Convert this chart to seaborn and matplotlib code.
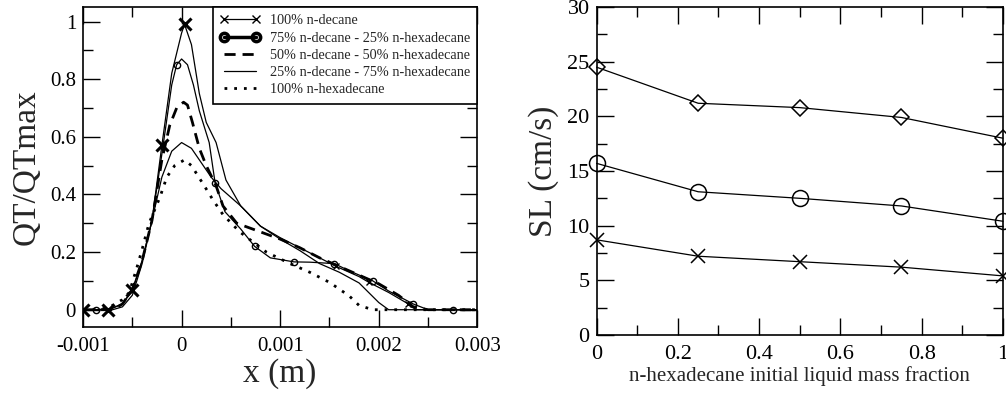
import numpy as np
import pandas as pd
import matplotlib
matplotlib.use("Agg")
import matplotlib.pyplot as plt
from matplotlib.lines import Line2D
from matplotlib.ticker import MultipleLocator, FormatStrFormatter
import seaborn as sns

# Profili QT/QTmax lungo x (m)
x_dec = [-0.001, -0.00075, -0.0006, -0.0005, -0.0004, -0.0003, -0.0002, -0.0001, 0.0, 0.00003,
         0.0001, 0.00018, 0.00025, 0.00035, 0.00045, 0.0006, 0.0008, 0.001, 0.0012, 0.0014,
         0.00157, 0.0018, 0.0019, 0.0021, 0.0023, 0.00238, 0.003]
y_dec = [0, 0, 0.02, 0.07, 0.17, 0.31, 0.57, 0.82, 0.96, 0.99,
         0.92, 0.75, 0.65, 0.58, 0.45, 0.36, 0.29, 0.25, 0.215, 0.18,
         0.15, 0.115, 0.095, 0.06, 0.02, 0, 0]
mk_dec = [0, 1, 3, 6, 9]
mk_dec_small = [20, 22, 24]

x_75 = [-0.001, -0.00087, -0.0007, -0.0006, -0.0005, -0.0004, -0.0003, -0.0002, -0.0001, -0.00005,
        0.0, 0.00006, 0.00012, 0.00018, 0.00028, 0.00034, 0.00044, 0.0006, 0.00074, 0.0009,
        0.00114, 0.0013, 0.00155, 0.0017, 0.00194, 0.0021, 0.00235, 0.0025, 0.00275, 0.003]
y_75 = [0, 0, 0.005, 0.02, 0.065, 0.17, 0.31, 0.54, 0.78, 0.85,
        0.87, 0.85, 0.78, 0.69, 0.58, 0.44, 0.34, 0.28, 0.22, 0.18,
        0.166, 0.165, 0.16, 0.135, 0.10, 0.065, 0.02, 0, 0, 0]
mk_75 = [1, 9, 15, 18, 20, 22, 24, 26, 28]

x_50 = [-0.001, -0.0007, -0.0006, -0.0005, -0.0004, -0.0003, -0.0002, -0.00012, -0.00005, 0.00002,
        0.00006, 0.00011, 0.00018, 0.00025, 0.00035, 0.00042, 0.00056, 0.0008, 0.001, 0.0012,
        0.0014, 0.0016, 0.0018, 0.002, 0.0022, 0.00235, 0.0025, 0.003]
y_50 = [0, 0, 0.02, 0.07, 0.17, 0.31, 0.52, 0.64, 0.70, 0.72,
        0.71, 0.65, 0.56, 0.50, 0.43, 0.36, 0.30, 0.27, 0.245, 0.215,
        0.18, 0.15, 0.12, 0.09, 0.05, 0.01, 0, 0]

x_25 = [-0.001, -0.0007, -0.0006, -0.0005, -0.0004, -0.0003, -0.0002, -0.0001, 0.0, 0.0001,
        0.0002, 0.0003, 0.0004, 0.0005, 0.0006, 0.0008, 0.001, 0.0012, 0.0014, 0.0016,
        0.0018, 0.002, 0.0021, 0.003]
y_25 = [0, 0, 0.01, 0.05, 0.16, 0.31, 0.46, 0.55, 0.58, 0.56,
        0.51, 0.46, 0.42, 0.39, 0.36, 0.29, 0.245, 0.205, 0.16, 0.13,
        0.093, 0.025, 0, 0]

x_hex = [-0.001, -0.0008, -0.0007, -0.0006, -0.00053, -0.00045, -0.0004, -0.00033, -0.00022, -0.00015,
         -0.00007, 0.00003, 0.0001, 0.00023, 0.00032, 0.00042, 0.00059, 0.00086, 0.0011, 0.0013,
         0.0015, 0.0017, 0.0018, 0.00194, 0.003]
y_hex = [0, 0.003, 0.015, 0.035, 0.06, 0.15, 0.21, 0.30, 0.39, 0.46,
         0.50, 0.52, 0.50, 0.43, 0.38, 0.33, 0.27, 0.20, 0.16, 0.13,
         0.095, 0.048, 0.015, 0, 0]

labels = ["100% n-decane", "75% n-decane - 25% n-hexadecane", "50% n-decane - 50% n-hexadecane",
          "25% n-decane - 75% n-hexadecane", "100% n-hexadecane"]

# Velocita' di fiamma SL (cm/s)
frac = [0, 0.25, 0.5, 0.75, 1.0]
sl_diamond = [24.5, 21.2, 20.8, 19.9, 18.0]
sl_circle = [15.7, 13.1, 12.5, 11.8, 10.4]
sl_cross = [8.7, 7.2, 6.7, 6.2, 5.4]

sns.set_style("ticks")
plt.rcParams["font.family"] = ["Liberation Serif", "DejaVu Serif"]

fig = plt.figure(figsize=(10.06, 3.94), dpi=100)
ax1 = fig.add_axes([0.0825, 0.170, 0.392, 0.812])
ax2 = fig.add_axes([0.593, 0.150, 0.404, 0.832])

DOTS = (0, (1, 2.5))
DASH = (0, (4, 2.5))

# --- grafico di sinistra
sns.lineplot(x=x_dec, y=y_dec, ax=ax1, sort=False, estimator=None, color="k", lw=0.9,
             marker="x", markersize=9, markeredgewidth=2.2, markeredgecolor="k",
             markevery=mk_dec)
sns.lineplot(x=x_dec, y=y_dec, ax=ax1, sort=False, estimator=None, color="k", lw=0,
             marker="x", markersize=5, markeredgewidth=1.0, markeredgecolor="k",
             markevery=mk_dec_small)
sns.lineplot(x=x_75, y=y_75, ax=ax1, sort=False, estimator=None, color="k", lw=0.9,
             marker="o", markersize=4.5, markerfacecolor="none", markeredgewidth=1.0,
             markeredgecolor="k", markevery=mk_75)
sns.lineplot(x=x_50, y=y_50, ax=ax1, sort=False, estimator=None, color="k", lw=2.0,
             linestyle=DASH)
sns.lineplot(x=x_25, y=y_25, ax=ax1, sort=False, estimator=None, color="k", lw=0.9)
sns.lineplot(x=x_hex, y=y_hex, ax=ax1, sort=False, estimator=None, color="k", lw=2.0,
             linestyle=DOTS)

ax1.set_xlim(-0.001, 0.003)
ax1.set_ylim(-0.06, 1.05)
ax1.xaxis.set_major_locator(MultipleLocator(0.001))
ax1.xaxis.set_minor_locator(MultipleLocator(0.0005))
ax1.yaxis.set_major_locator(MultipleLocator(0.2))
ax1.yaxis.set_minor_locator(MultipleLocator(0.1))
ax1.xaxis.set_major_formatter(FormatStrFormatter("%g"))
ax1.yaxis.set_major_formatter(FormatStrFormatter("%g"))
ax1.set_xlabel("x (m)", fontsize=24, labelpad=2)
ax1.set_ylabel("QT/QTmax", fontsize=24, labelpad=6)

handles = [
    Line2D([], [], color="k", lw=0.9, marker="x", markersize=6, markeredgewidth=1.0),
    Line2D([], [], color="k", lw=2.5, marker="o", markersize=6, markerfacecolor="none",
           markeredgewidth=2.5),
    Line2D([], [], color="k", lw=2.0, linestyle=DASH),
    Line2D([], [], color="k", lw=0.9),
    Line2D([], [], color="k", lw=2.0, linestyle=DOTS),
]
leg = ax1.legend(handles, labels, loc="upper right", borderaxespad=0, fontsize=10.3,
                 frameon=True, fancybox=False, edgecolor="k", framealpha=1,
                 handlelength=2.8, handletextpad=0.7, labelspacing=0.3, borderpad=0.5,
                 numpoints=2)
leg.get_frame().set_linewidth(1.2)

# --- grafico di destra
for vals, mk, ms in [(sl_diamond, "D", 8.5), (sl_circle, "o", 11.5), (sl_cross, "x", 9.5)]:
    sns.lineplot(x=frac, y=vals, ax=ax2, color="k", lw=0.9, marker=mk, markersize=ms,
                 markerfacecolor="none", markeredgecolor="k", markeredgewidth=1.1,
                 clip_on=False)

ax2.set_xlim(0, 1)
ax2.set_ylim(0, 30)
ax2.xaxis.set_major_locator(MultipleLocator(0.2))
ax2.xaxis.set_minor_locator(MultipleLocator(0.1))
ax2.yaxis.set_major_locator(MultipleLocator(5))
ax2.yaxis.set_minor_locator(MultipleLocator(2.5))
ax2.xaxis.set_major_formatter(FormatStrFormatter("%g"))
ax2.yaxis.set_major_formatter(FormatStrFormatter("%g"))
ax2.set_xlabel("n-hexadecane initial liquid mass fraction", fontsize=15, labelpad=2)
ax2.set_ylabel("SL (cm/s)", fontsize=24, labelpad=6)

for ax, fs in [(ax1, 15), (ax2, 16)]:
    for s in ax.spines.values():
        s.set_visible(True)
        s.set_linewidth(1.2)
        s.set_color("k")
    ax.tick_params(which="both", direction="in", top=True, right=True, colors="k",
                   labelsize=fs, width=1.0)
    ax.tick_params(which="major", length=12, pad=5)
    ax.tick_params(which="minor", length=7)
    ax.tick_params(axis="x", which="major", pad=7)

fig.savefig("out.png", dpi=100)
